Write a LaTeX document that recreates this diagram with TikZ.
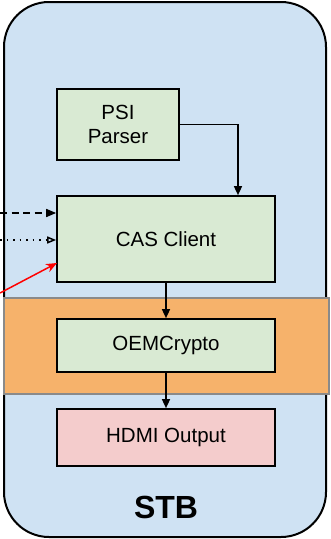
\documentclass[tikz,border=0pt]{standalone}
\usepackage{fontspec}
\setmainfont{Liberation Sans}
\usetikzlibrary{arrows.meta}
\definecolor{stbblue}{HTML}{CFE2F3}
\definecolor{boxgreen}{HTML}{D9EAD3}
\definecolor{bandorange}{HTML}{F6B26B}
\definecolor{boxpink}{HTML}{F4CCCC}
\definecolor{bandgray}{HTML}{8A8A8A}
\begin{document}
\begin{tikzpicture}[x=1pt,y=1pt,
  blk/.style={draw=black,line width=1.7pt,fill=boxgreen,inner sep=0pt,
    font=\fontsize{20.5}{24}\selectfont,align=center},
  conn/.style={line width=1.5pt,-{Triangle[length=9pt,width=8pt]}}]
\useasboundingbox (0,0) rectangle (330,-539);
% outer STB
\node[draw=black,line width=2pt,fill=stbblue,rounded corners=45pt,
  minimum width=322pt,minimum height=535pt,inner sep=0pt] (stb) at (165,-269.5) {};
% orange band
\node[draw=bandgray,line width=1.4pt,fill=bandorange,minimum width=325pt,
  minimum height=96pt,inner sep=0pt] (band) at (166.5,-346) {};
% boxes
\node[blk,minimum width=122pt,minimum height=71pt] (psi) at (118,-124.5) {PSI\\Parser};
\node[blk,minimum width=218pt,minimum height=86pt] (cas) at (166,-239) {CAS Client};
\node[blk,minimum width=218pt,minimum height=53pt] (oem) at (166,-345.5) {OEMCrypto};
\node[blk,fill=boxpink,minimum width=218pt,minimum height=57pt] (hdmi) at (166,-437.5) {HDMI Output};
\node[font=\bfseries\fontsize{32}{36}\selectfont] (stblabel) at (166,-507) {STB};
% connectors
\draw[conn] (psi.east) -| (cas.north -| 238,0);
\draw[conn] (cas.south -| 166,0) -- (oem.north);
\draw[conn] (oem.south) -- (hdmi.north);
% external inputs
\coordinate (in1) at (0,-213);
\coordinate (in2) at (0,-240);
\coordinate (in3) at (0,-293);
\draw[line width=1.6pt,dash pattern=on 7pt off 4.5pt,-{Triangle[length=10pt,width=8pt]}] (in1) -- (cas.west |- in1);
\draw[line width=1.5pt,dash pattern=on 1.5pt off 5pt,-{Triangle[open,length=9pt,width=7pt]}] (in2) -- (cas.west |- in2);
\draw[red,line width=1.5pt,-{Stealth[length=11pt,width=9pt]}] (in3) -- (57,-263);
\end{tikzpicture}
\end{document}
